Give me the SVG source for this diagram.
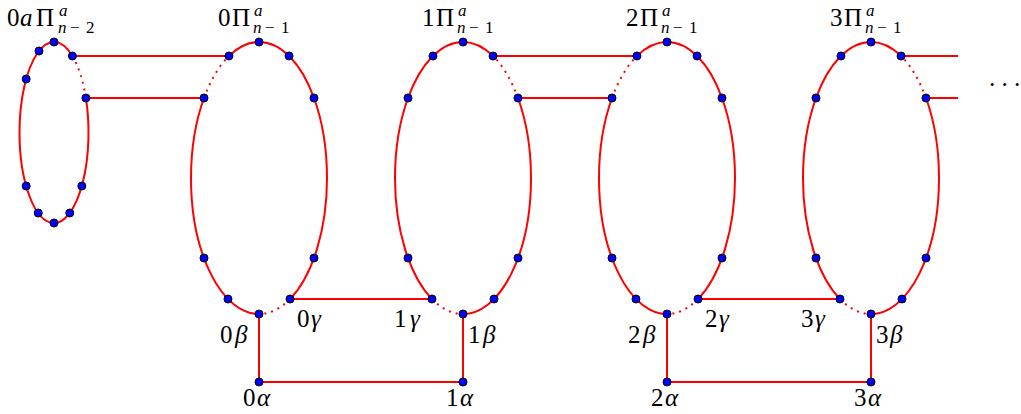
<svg xmlns="http://www.w3.org/2000/svg" width="1021" height="414" viewBox="0 0 1021 414">
<style>
.e{fill:none;stroke:#ff0000;stroke-width:2}
.d{fill:none;stroke:#ff0000;stroke-width:2;stroke-dasharray:2 5}
.v{fill:#0000ff;stroke:#000;stroke-width:1}
text{font-family:'Liberation Serif','Times New Roman',serif;fill:#000}
.l{font-size:25px}
.s{font-size:17px}
.i{font-style:italic}
</style>
<defs>
<g id="ell">
<path class="e" d="M-30.05,56 A68,136 0 0,1 0,42 A68,136 0 0,1 54.99,98 A68,136 0 0,1 68,178 A68,136 0 0,1 31.04,299"/>
<path class="e" d="M0,314 A68,136 0 0,1 -68,178 A68,136 0 0,1 -54.99,98"/>
<path class="d" d="M-54.99,98 A68,136 0 0,1 -30.05,56 M31.04,299 A68,136 0 0,1 0,314"/>
<g class="v">
<circle cx="0" cy="42" r="4"/><circle cx="-30.05" cy="56" r="4"/><circle cx="30.05" cy="56" r="4"/>
<circle cx="-54.99" cy="98" r="4"/><circle cx="54.99" cy="98" r="4"/>
<circle cx="-54.99" cy="258" r="4"/><circle cx="54.99" cy="258" r="4"/>
<circle cx="-31.04" cy="299" r="4"/><circle cx="31.04" cy="299" r="4"/>
<circle cx="0" cy="314" r="4"/>
</g>
</g>
</defs>
<g id="connectors">
<path class="e" d="M72.43,56 H228.95 M85.9,98 H204.01 M493.05,56 H636.95 M517.99,98 H612.01 M901.05,56 H958 M925.99,98 H958 M290.04,299 H431.96 M698.04,299 H839.96 M259,314 V382 H463 V314 M667,314 V382 H871 V314"/>
</g>
<g id="P0a">
<path class="e" d="M85.9,98 A34.5,90.5 0 0,1 54,223 A34.5,90.5 0 0,1 19.5,132.5 A34.5,90.5 0 0,1 72.43,56"/>
<path class="d" d="M72.43,56 A34.5,90.5 0 0,1 85.9,98"/>
<g class="v">
<circle cx="54" cy="42" r="4"/><circle cx="39" cy="51" r="4"/><circle cx="72.43" cy="56" r="4"/>
<circle cx="26.17" cy="79" r="4"/><circle cx="85.9" cy="98" r="4"/>
<circle cx="26.17" cy="186" r="4"/><circle cx="81.83" cy="186" r="4"/>
<circle cx="38.24" cy="213" r="4"/><circle cx="69.76" cy="213" r="4"/>
<circle cx="54" cy="223" r="4"/>
</g>
<text class="l" x="7" y="26">0<tspan class="i" x="20">a</tspan><tspan x="36">Π</tspan></text>
<text class="s i" x="59" y="16">a</text>
<text class="s" x="58" y="33"><tspan class="i">n</tspan><tspan x="70">−</tspan><tspan x="86">2</tspan></text>
</g>
<g id="P0">
<use href="#ell" transform="translate(259,0)"/>
<text class="l" x="218" y="26">0<tspan x="232">Π</tspan></text>
<text class="s i" x="254" y="16">a</text>
<text class="s" x="253" y="33"><tspan class="i">n</tspan><tspan x="265">−</tspan><tspan x="281">1</tspan></text>
</g>
<g id="P1">
<use href="#ell" transform="translate(463,0) scale(-1,1)"/>
<text class="l" x="422" y="26">1<tspan x="436">Π</tspan></text>
<text class="s i" x="458" y="16">a</text>
<text class="s" x="457" y="33"><tspan class="i">n</tspan><tspan x="469">−</tspan><tspan x="485">1</tspan></text>
</g>
<g id="P2">
<use href="#ell" transform="translate(667,0)"/>
<text class="l" x="626" y="26">2<tspan x="640">Π</tspan></text>
<text class="s i" x="662" y="16">a</text>
<text class="s" x="661" y="33"><tspan class="i">n</tspan><tspan x="673">−</tspan><tspan x="689">1</tspan></text>
</g>
<g id="P3">
<use href="#ell" transform="translate(871,0) scale(-1,1)"/>
<text class="l" x="830" y="26">3<tspan x="844">Π</tspan></text>
<text class="s i" x="866" y="16">a</text>
<text class="s" x="865" y="33"><tspan class="i">n</tspan><tspan x="877">−</tspan><tspan x="893">1</tspan></text>
</g>
<g id="beta0"><text class="l" x="220" y="342.5">0<tspan class="i" x="235">β</tspan></text></g>
<g id="gamma0"><text class="l" x="297" y="327">0<tspan class="i" x="311">γ</tspan></text></g>
<g id="gamma1"><text class="l" x="394" y="327">1<tspan class="i" x="410">γ</tspan></text></g>
<g id="beta1"><text class="l" x="468" y="342.5">1<tspan class="i" x="483">β</tspan></text></g>
<g id="beta2"><text class="l" x="628" y="342.5">2<tspan class="i" x="643">β</tspan></text></g>
<g id="gamma2"><text class="l" x="705" y="327">2<tspan class="i" x="719">γ</tspan></text></g>
<g id="gamma3"><text class="l" x="801" y="327">3<tspan class="i" x="815">γ</tspan></text></g>
<g id="beta3"><text class="l" x="876" y="342.5">3<tspan class="i" x="890">β</tspan></text></g>
<g id="alpha0"><circle class="v" cx="259" cy="382" r="4"/><text class="l" x="243" y="405.5">0<tspan class="i" x="257">α</tspan></text></g>
<g id="alpha1"><circle class="v" cx="463" cy="382" r="4"/><text class="l" x="446" y="405.5">1<tspan class="i" x="460">α</tspan></text></g>
<g id="alpha2"><circle class="v" cx="667" cy="382" r="4"/><text class="l" x="651" y="405.5">2<tspan class="i" x="665">α</tspan></text></g>
<g id="alpha3"><circle class="v" cx="871" cy="382" r="4"/><text class="l" x="854" y="405.5">3<tspan class="i" x="868">α</tspan></text></g>
<text class="l" x="988 1000.5 1013" y="93">···</text>
</svg>
